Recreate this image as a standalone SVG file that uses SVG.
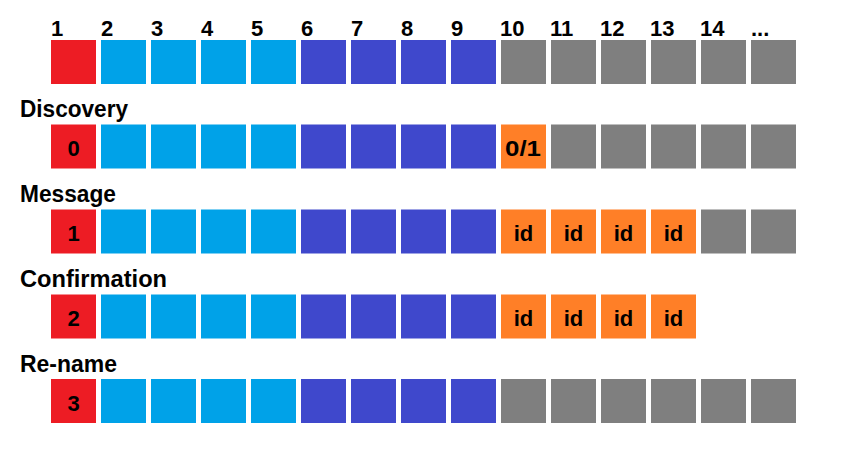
<svg xmlns="http://www.w3.org/2000/svg" width="850" height="463" viewBox="0 0 850 463">
<defs>
<style>
text{font-family:"Liberation Sans",Arial,sans-serif;font-weight:bold;fill:#000}
.lbl{font-size:23px}
.num{font-size:22px}
.in{font-size:22px;text-anchor:middle}
.r{fill:#ED1C24}.b{fill:#00A2E8}.d{fill:#3F48CC}.g{fill:#7F7F7F}.o{fill:#FF7F27}
</style>
<g id="cellrow">
<rect class="r" x="51" y="0" width="45" height="44"/>
<rect class="b" x="101" y="0" width="45" height="44"/>
<rect class="b" x="151" y="0" width="45" height="44"/>
<rect class="b" x="201" y="0" width="45" height="44"/>
<rect class="b" x="251" y="0" width="45" height="44"/>
<rect class="d" x="301" y="0" width="45" height="44"/>
<rect class="d" x="351" y="0" width="45" height="44"/>
<rect class="d" x="401" y="0" width="45" height="44"/>
<rect class="d" x="451" y="0" width="45" height="44"/>
</g>
</defs>
<rect width="850" height="463" fill="#fff"/>
<g id="header">
<text class="num" x="51" y="36">1</text>
<text class="num" x="101" y="36">2</text>
<text class="num" x="151" y="36">3</text>
<text class="num" x="201" y="36">4</text>
<text class="num" x="251" y="36">5</text>
<text class="num" x="301" y="36">6</text>
<text class="num" x="351" y="36">7</text>
<text class="num" x="401" y="36">8</text>
<text class="num" x="451" y="36">9</text>
<text class="num" x="500" y="36">10</text>
<text class="num" x="550" y="36">11</text>
<text class="num" x="600" y="36">12</text>
<text class="num" x="650" y="36">13</text>
<text class="num" x="700" y="36">14</text>
<text class="num" x="751" y="36">...</text>
</g>
<g id="row0">
<use href="#cellrow" y="40"/>
<rect class="g" x="501" y="40" width="45" height="44"/>
<rect class="g" x="551" y="40" width="45" height="44"/>
<rect class="g" x="601" y="40" width="45" height="44"/>
<rect class="g" x="651" y="40" width="45" height="44"/>
<rect class="g" x="701" y="40" width="45" height="44"/>
<rect class="g" x="751" y="40" width="45" height="44"/>
</g>
<g id="discovery">
<text class="lbl" x="20" y="117" textLength="108" lengthAdjust="spacingAndGlyphs">Discovery</text>
<use href="#cellrow" y="124.5"/>
<rect class="o" x="501" y="124.5" width="45" height="44"/>
<rect class="g" x="551" y="124.5" width="45" height="44"/>
<rect class="g" x="601" y="124.5" width="45" height="44"/>
<rect class="g" x="651" y="124.5" width="45" height="44"/>
<rect class="g" x="701" y="124.5" width="45" height="44"/>
<rect class="g" x="751" y="124.5" width="45" height="44"/>
<text class="in" x="73.5" y="156">0</text>
<text class="in" x="523" y="156" textLength="36" lengthAdjust="spacingAndGlyphs">0/1</text>
</g>
<g id="message">
<text class="lbl" x="20" y="202" textLength="96" lengthAdjust="spacingAndGlyphs">Message</text>
<use href="#cellrow" y="209.5"/>
<rect class="o" x="501" y="209.5" width="45" height="44"/>
<rect class="o" x="551" y="209.5" width="45" height="44"/>
<rect class="o" x="601" y="209.5" width="45" height="44"/>
<rect class="o" x="651" y="209.5" width="45" height="44"/>
<rect class="g" x="701" y="209.5" width="45" height="44"/>
<rect class="g" x="751" y="209.5" width="45" height="44"/>
<text class="in" x="73.5" y="241">1</text>
<text class="in" x="523.5" y="241">id</text>
<text class="in" x="573.5" y="241">id</text>
<text class="in" x="623.5" y="241">id</text>
<text class="in" x="673.5" y="241">id</text>
</g>
<g id="confirmation">
<text class="lbl" x="20" y="287" textLength="147" lengthAdjust="spacingAndGlyphs">Confirmation</text>
<use href="#cellrow" y="294.5"/>
<rect class="o" x="501" y="294.5" width="45" height="44"/>
<rect class="o" x="551" y="294.5" width="45" height="44"/>
<rect class="o" x="601" y="294.5" width="45" height="44"/>
<rect class="o" x="651" y="294.5" width="45" height="44"/>
<text class="in" x="73.5" y="326">2</text>
<text class="in" x="523.5" y="326">id</text>
<text class="in" x="573.5" y="326">id</text>
<text class="in" x="623.5" y="326">id</text>
<text class="in" x="673.5" y="326">id</text>
</g>
<g id="rename">
<text class="lbl" x="20" y="372" textLength="97" lengthAdjust="spacingAndGlyphs">Re-name</text>
<use href="#cellrow" y="379"/>
<rect class="g" x="501" y="379" width="45" height="44"/>
<rect class="g" x="551" y="379" width="45" height="44"/>
<rect class="g" x="601" y="379" width="45" height="44"/>
<rect class="g" x="651" y="379" width="45" height="44"/>
<rect class="g" x="701" y="379" width="45" height="44"/>
<rect class="g" x="751" y="379" width="45" height="44"/>
<text class="in" x="73.5" y="411">3</text>
</g>
<g id="connectors"/>
</svg>
